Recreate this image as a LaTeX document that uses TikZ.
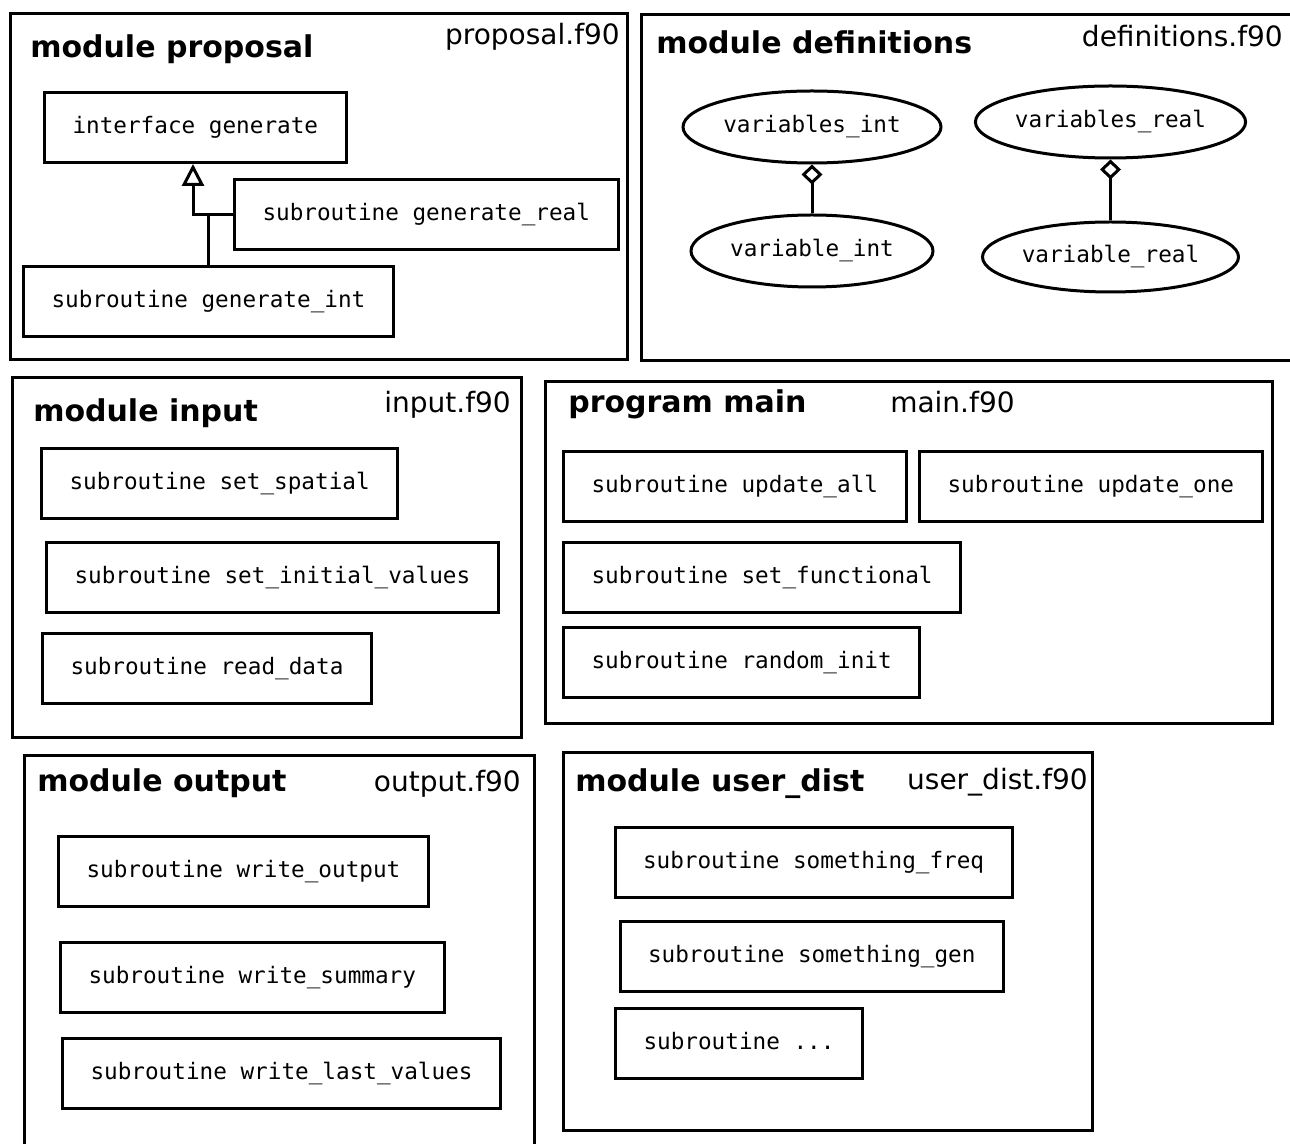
\documentclass[tikz,border=0pt]{standalone}
\usepackage{fontspec}
\setmainfont{DejaVu Sans}
\setmonofont{DejaVu Sans Mono}
\usetikzlibrary{arrows.meta,shapes.geometric}

\tikzset{
  subbox/.style={draw,line width=2.25pt,anchor=west,inner xsep=21pt,inner ysep=0pt,
    minimum height=52.5pt,text height=12.75pt,text depth=3.75pt,
    font=\fontsize{17}{20}\selectfont\ttfamily},
  varell/.style={draw,ellipse,line width=2.25pt,inner sep=0pt,
    text height=12.75pt,text depth=3.75pt,font=\fontsize{17}{20}\selectfont\ttfamily},
  modtitle/.style={anchor=base west,inner sep=0pt,font=\fontsize{22.5}{27}\selectfont\bfseries},
  fname/.style={anchor=base east,inner sep=0pt,font=\fontsize{21}{25}\selectfont},
  panel/.style={line width=2.25pt},
  link/.style={line width=2.25pt}
}

\begin{document}
\begin{tikzpicture}[x=0.75pt,y=0.75pt,yscale=-1,xscale=1]
\useasboundingbox (0,0) rectangle (1290,1144);

%Shape: Rectangle [module proposal]
\draw [panel] (10,14) rectangle (627,360);
%Shape: Rectangle [module definitions]
\draw [panel] (641,15) rectangle (1310,361);
%Shape: Rectangle [module input]
\draw [panel] (12,378) rectangle (521,738);
%Shape: Rectangle [program main]
\draw [panel] (545,382) rectangle (1272,724);
%Shape: Rectangle [module output]
\draw [panel] (24,756) rectangle (534,1160);
%Shape: Rectangle [module user_dist]
\draw [panel] (563,753) rectangle (1092,1130);

% Text Node
\node [modtitle] (tprop) at (30,58) {module proposal};
\node [fname] (fprop) at (620,45) {proposal.f90};
\node [modtitle] (tdefs) at (656,54) {module definitions};
\node [fname] (fdefs) at (1283,47) {definitions.f90};
\node [modtitle] (tinput) at (33,422) {module input};
\node [fname] (finput) at (511,413) {input.f90};
\node [modtitle] (tmain) at (568,413) {program main};
\node [fname,anchor=base west] (fmain) at (890,413) {main.f90};
\node [modtitle] (toutput) at (37,792) {module output};
\node [fname] (foutput) at (521,792) {output.f90};
\node [modtitle] (tuser) at (575,792) {module user\_dist};
\node [fname] (fuser) at (1088,790) {user\_dist.f90};

%proposal
\node [subbox] (iface) at (43,127.5) {interface generate};
\node [subbox] (genreal) at (233,214.5) {subroutine generate\_real};
\node [subbox] (genint) at (22,302) {subroutine generate\_int};
\coordinate (gjoin) at (193,214.5);
\draw [link,-{Triangle[open,length=16.5pt,width=16.5pt]}] (genreal.west) -- (gjoin) -- (gjoin |- iface.south);
\draw [link] (genint.north) -- (genint.north |- gjoin);

%definitions
\node [varell,minimum width=193.5pt,minimum height=54pt] (varsint) at (812,127) {variables\_int};
\node [varell,minimum width=181.5pt,minimum height=54pt] (varint) at (812,251) {variable\_int};
\node [varell,minimum width=202.5pt,minimum height=54pt] (varsreal) at (1110.5,122) {variables\_real};
\node [varell,minimum width=192pt,minimum height=52.5pt] (varreal) at (1110.5,257) {variable\_real};
\draw [link,-{Diamond[open,length=15pt,width=15.75pt]}] (varint) -- (varsint);
\draw [link,-{Diamond[open,length=15pt,width=15.75pt]}] (varreal) -- (varsreal);

%input
\node [subbox] (setspatial) at (40,483.5) {subroutine set\_spatial};
\node [subbox] (setinit) at (45,578) {subroutine set\_initial\_values};
\node [subbox] (readdata) at (41,668.5) {subroutine read\_data};

%main
\node [subbox] (updall) at (562,487) {subroutine update\_all};
\node [subbox] (updone) at (918,487) {subroutine update\_one};
\node [subbox] (setfunc) at (562,577.5) {subroutine set\_functional};
\node [subbox] (randinit) at (562,662.5) {subroutine random\_init};

%output
\node [subbox] (writeout) at (57,871.5) {subroutine write\_output};
\node [subbox] (writesum) at (59,977) {subroutine write\_summary};
\node [subbox] (writelast) at (61,1073) {subroutine write\_last\_values};

%user_dist
\node [subbox] (somefreq) at (613.5,862) {subroutine something\_freq};
\node [subbox] (somegen) at (618.5,956) {subroutine something\_gen};
\node [subbox] (somedots) at (614,1043.5) {subroutine ...};

\end{tikzpicture}
\end{document}
